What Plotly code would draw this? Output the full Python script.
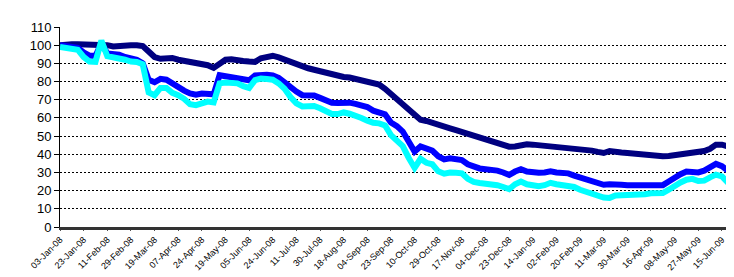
import pandas as pd
import plotly.graph_objects as go

tick_labels = ["03-Jan-08", "23-Jan-08", "11-Feb-08", "29-Feb-08", "19-Mar-08", "07-Apr-08",
               "24-Apr-08", "19-May-08", "05-Jun-08", "24-Jun-08", "11-Jul-08", "30-Jul-08",
               "18-Aug-08", "04-Sep-08", "23-Sep-08", "10-Oct-08", "29-Oct-08", "17-Nov-08",
               "04-Dec-08", "23-Dec-08", "14-Jan-09", "02-Feb-09", "20-Feb-09", "11-Mar-09",
               "30-Mar-09", "16-Apr-09", "08-May-09", "27-May-09", "15-Jun-09"]

navy = [100, 100.5, 100.5, 100.5, 100.5, 100.3, 100.2, 100, 100, 99.3,
        99.8, 100.2, 100, 100, 99.5, 96.5, 93.5, 92.5, 93, 93,
        92, 91.5, 90.5, 89.8, 89.3, 89, 87.5, 89.5, 92, 92.2,
        91.5, 91.3, 91, 90.8, 92.8, 93.5, 94.2, 93.3, 92, 90.5,
        89.2, 88.2, 87.3, 86.5, 85.7, 84.5, 83.5, 82.9, 82.5, 82.2,
        81.5, 80.8, 80.3, 79.3, 78.3, 76, 73, 70.5, 68, 65,
        62, 59, 58.3, 57.5, 56.5, 55.2, 54.3, 53.3, 52.3, 51.5,
        50, 49.2, 48, 47, 46, 45, 44.2, 44.3, 45.3, 45.5,
        45.3, 45, 44.8, 44.5, 44.3, 43.5, 43, 42.8, 42.8, 42.5,
        42, 41.3, 40.7, 41.8, 41.8, 41, 40.7, 40.3, 40, 39.5,
        39, 38.9, 38.9, 39, 39.4, 39.8, 40, 40.8, 41.3, 41.8,
        43, 45.3, 45.3, 44.3, 43.5, 43.5]

blue = [100, 99.5, 99, 98.5, 96, 94.3, 94, 101, 95.5, 95.3,
        94.8, 93.5, 92.5, 92, 90, 81, 79.6, 81.5, 81, 79,
        76.5, 75, 73.5, 72.8, 73.4, 73.4, 73, 83.5, 83, 82.2,
        82, 81, 80.7, 83.3, 83.8, 83.7, 83.3, 82, 79.5, 76.5,
        74.5, 72.5, 72.5, 72.3, 71, 69.5, 68.3, 68.2, 68.6, 68.4,
        67.7, 67, 66, 64, 63.3, 62, 57.5, 55.5, 52.5, 47,
        41.5, 44.3, 43.5, 42, 38.9, 37.2, 37.8, 37.5, 36.8, 34.5,
        33, 32.2, 31.8, 31.5, 31, 30, 28.6, 30.5, 31.8, 30.5,
        30, 29.8, 30, 30.6, 30, 29.8, 29.5, 28.3, 27.2, 26,
        25, 24, 23.2, 23.5, 23.8, 23.3, 23, 22.8, 22.8, 22.8,
        23, 22.9, 23, 25, 27.5, 29, 30.5, 30, 30, 31,
        33, 34.7, 33.5, 31, 31.3, 31.3]

cyan = [99, 98.5, 98.3, 97.5, 93.5, 91, 90.8, 102.5, 94, 93.5,
        93.2, 92, 91, 90.8, 89.5, 74, 72.5, 76.5, 76.5, 73.8,
        72.5, 70.5, 67.5, 67, 68, 69, 68.5, 79, 79.5, 79.2,
        79, 77.5, 76.5, 80.8, 81.6, 81.4, 81, 79, 76, 71.5,
        68, 66.3, 66.3, 66.6, 65.3, 63.3, 62.2, 62.1, 63, 62.3,
        61.5, 60, 58.5, 57.3, 57, 55.8, 50.5, 47.5, 44.5, 38,
        32.5, 37.5, 35.3, 34.5, 30.6, 29.3, 30, 29.8, 29.5, 26.5,
        24.8, 24.2, 24, 23.7, 23, 22, 20.8, 23.5, 25, 23.5,
        23, 22.4, 23, 24.3, 23.5, 23, 23, 22, 20.5, 19.3,
        18, 16.9, 16.2, 16, 17.3, 17.5, 17.5, 17.5, 17.6, 18,
        18.5, 18.7, 18.7, 20.5, 23, 24.5, 26, 26.5, 25.3, 25.5,
        27.3, 28.8, 27.8, 24.5, 25.3, 25]

y_ticks = list(range(0, 111, 10))

# category dates: 4 observations per labelled interval (business days)
label_dates = pd.to_datetime(tick_labels, format="%d-%b-%y")
samples = []
for a, b in zip(label_dates[:-1], label_dates[1:]):
    bd = pd.bdate_range(a, b)
    n = len(bd) - 1
    for j in range(4):
        samples.append(bd[int(round(j * n / 4))])
bd = pd.bdate_range(label_dates[-1], periods=16)
for j in range(4):
    samples.append(bd[int(round(j * 3.5))])
cats = [d.strftime("%d-%b-%y") for d in samples]

fig = go.Figure()
for vals, col in [(navy, "#000080"), (blue, "#0000FF"), (cyan, "#00FFFF")]:
    fig.add_trace(go.Scatter(x=cats, y=vals, mode="lines",
                             line=dict(color=col, width=6), showlegend=False))

fig.update_layout(
    width=734, height=277,
    margin=dict(l=52, r=0, t=19, b=58),
    paper_bgcolor="white", plot_bgcolor="white",
    font=dict(family="Liberation Sans, Arial, sans-serif", color="black"),
)
fig.update_xaxes(
    type="category", categoryorder="array", categoryarray=cats,
    range=[0, 115.4],
    tickmode="array", tickvals=tick_labels, ticktext=tick_labels,
    tickangle=-45, tickfont=dict(size=9),
    showgrid=False, showline=True, linecolor="#333333", linewidth=3,
    ticks="outside", ticklen=1, tickcolor="#555555",
    zeroline=False,
)
fig.update_yaxes(
    range=[0, 110], tickmode="array", tickvals=y_ticks,
    tickfont=dict(size=13),
    showgrid=False, showline=True, linecolor="black", linewidth=1,
    ticks="outside", ticklen=5, tickcolor="black",
    zeroline=False,
    minor=dict(tickmode="array", tickvals=y_ticks[1:-1], showgrid=True,
               gridcolor="black", gridwidth=1, griddash="2px,2px", ticks=""),
)

fig.write_html("out.html")
